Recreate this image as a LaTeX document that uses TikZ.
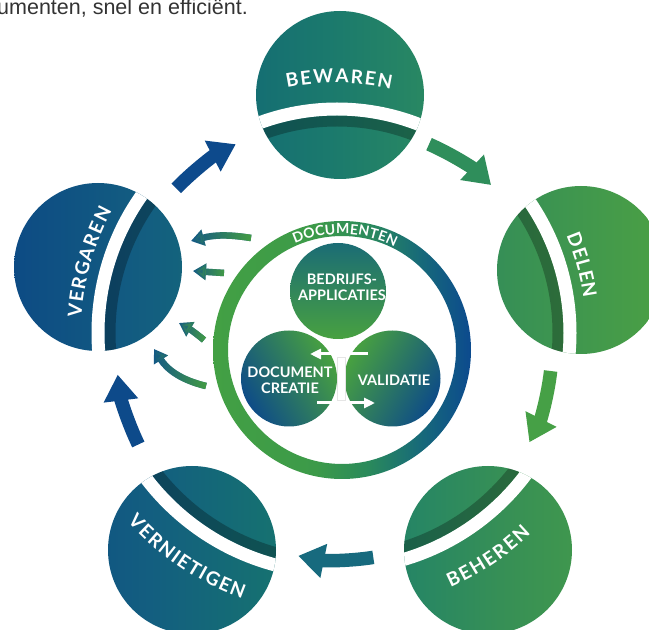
\documentclass[tikz,border=0pt]{standalone}
\usepackage{fontspec}
\usetikzlibrary{arrows.meta,decorations.text,fadings}
\newfontfamily\lab{Lato}
\newfontfamily\topfont{Liberation Sans}
\newcommand\biglab{\lab\bfseries\fontsize{19}{21}\selectfont}
\newcommand\smlab{\lab\bfseries\fontsize{14}{16}\selectfont}
\definecolor{b0}{HTML}{0D4B84}
\definecolor{b1}{HTML}{135E80}
\definecolor{b2}{HTML}{156F72}
\definecolor{b3}{HTML}{1C7B6C}
\definecolor{b4}{HTML}{288763}
\definecolor{b5}{HTML}{368F56}
\definecolor{b6}{HTML}{4BA044}
\definecolor{r0}{HTML}{43A044}
\definecolor{r1}{HTML}{3C9A49}
\definecolor{r2}{HTML}{2A8A5B}
\definecolor{r3}{HTML}{176A79}
\definecolor{r4}{HTML}{0C4A8E}
\definecolor{arA}{HTML}{0D4A8C}
\definecolor{arB}{HTML}{2F8E5B}
\definecolor{arC}{HTML}{46A046}
\definecolor{arD}{HTML}{176A7E}
\definecolor{arE}{HTML}{0D4A8A}
\definecolor{ig}{HTML}{46A040}
\definecolor{ib}{HTML}{11558A}
\definecolor{cg}{HTML}{48A140}
\definecolor{ct}{HTML}{1B6C75}
\definecolor{cb}{HTML}{0E4C87}
\definecolor{txt}{HTML}{333333}
\pgfdeclarehorizontalshading{bigshade}{100bp}{color(0bp)=(b0); color(25bp)=(b0); color(35.4bp)=(b1); color(43.9bp)=(b2); color(50bp)=(b3); color(56.2bp)=(b4); color(62.3bp)=(b5); color(75bp)=(b6); color(100bp)=(b6)}
\pgfdeclarehorizontalshading{ringshade}{100bp}{color(0bp)=(r0); color(25bp)=(r0); color(45bp)=(r1); color(55bp)=(r2); color(65bp)=(r3); color(75bp)=(r4); color(100bp)=(r4)}
\tikzfading[name=greenright, left color=transparent!100, right color=transparent!0]
\newcommand\gapband[2]{%
  \begin{scope}
    \clip (#1) circle[radius=84];
    \fill[black, opacity=.27, even odd rule] (G) circle[radius={#2-6.5}] (G) circle[radius={#2-17.5}];
    \draw[white, line width=13] (G) circle[radius=#2];
  \end{scope}}
\begin{document}
\begin{tikzpicture}[x=1pt,y=1pt,
  oarrow/.style={line width=13.5, -{Triangle[width=33pt,length=26pt]}},
  iarrow/.style={line width=6.5, -{Triangle[width=16pt,length=13pt]}},
  warrow/.style={white, line width=3, -{Triangle[width=10pt,length=11pt]}},
  intext/.style={text=white, font=\lab\bfseries\fontsize{14.5}{16}\selectfont, align=center, inner sep=0},
  lbl/.style={font=\biglab, decorate, decoration={text along path, text align={fit to path}, text color=white, text={|\biglab|#1}}},
  ringlbl/.style={font=\smlab, decorate, decoration={text along path, text align={fit to path}, text color=white, text={|\smlab|#1}}}]
\useasboundingbox (0,0) rectangle (649,630);
\coordinate (O) at (340,283);
\coordinate (G) at (337,297);
\coordinate (cBew) at (340,535);
\coordinate (cDel) at (581,360);
\coordinate (cVer) at (98,363);
\coordinate (cBeh) at (488,80);
\coordinate (cVern) at (192,80);
\coordinate (R) at (342,280);
\coordinate (cA) at (338,339);
\coordinate (cD) at (289,251.5);
\coordinate (cV) at (392.5,251.5);

% title
\node[anchor=base east, inner sep=0, text=txt, font=\topfont\fontsize{21.5}{24}\selectfont] (title) at (248,615) {umenten, snel en efficiënt.};

% big circles
\shade[shading=bigshade] (cBew) circle[radius=84] (cDel) circle[radius=84] (cVer) circle[radius=84] (cBeh) circle[radius=84] (cVern) circle[radius=84];
\gapband{cBew}{224}
\gapband{cDel}{233}
\gapband{cVer}{239}
\gapband{cBeh}{236}
\gapband{cVern}{240}

% outer cycle arrows
\draw[oarrow, arA] (O) ++(135.9:228) arc[start angle=135.9, end angle=117.2, radius=228];
\draw[oarrow, arB] (O) ++(66.3:221.5) arc[start angle=66.3, end angle=47, radius=221.5];
\draw[oarrow, arC] (O) ++(-6.5:212) arc[start angle=-6.5, end angle=-26.7, radius=212];
\draw[oarrow, arD] (O) ++(-81:213) arc[start angle=-81, end angle=-101.3, radius=213];
\draw[oarrow, arE] (O) ++(205.8:224) arc[start angle=205.8, end angle=187.1, radius=224];

% inner arrows towards VERGAREN
\coordinate (i1t) at (251,392); \coordinate (i1h) at (191,389);
\coordinate (i2t) at (224,357); \coordinate (i2h) at (193,359);
\coordinate (i3t) at (204,290); \coordinate (i3h) at (179,307);
\coordinate (i4t) at (206,244); \coordinate (i4h) at (154,281);
\draw[iarrow, ib] (i1t) to[bend right=12] (i1h);
\draw[iarrow, ig, path fading=greenright] (i1t) to[bend right=12] (i1h);
\draw[iarrow, ib] (i2t) -- (i2h);
\draw[iarrow, ig, path fading=greenright] (i2t) -- (i2h);
\draw[iarrow, ib] (i3t) to[bend right=5] (i3h);
\draw[iarrow, ig, path fading=greenright] (i3t) to[bend right=5] (i3h);
\draw[iarrow, ib] (i4t) to[bend left=22] (i4h);
\draw[iarrow, ig, path fading=greenright] (i4t) to[bend left=22] (i4h);

% central ring
\shade[shading=ringshade, even odd rule] (R) circle[radius=129] (R) circle[radius=114];
\path[ringlbl=DOCUMENTEN] (R) ++(114:116) arc[start angle=114, end angle=63, radius=116];

% inner circles
\shade[top color=ct, bottom color=cg] (cA) circle[radius=48];
\shade[top color=cg, bottom color=cb, shading angle=-60] (cD) circle[radius=48];
\shade[top color=cg, bottom color=cb, shading angle=60] (cV) circle[radius=48];
\filldraw[fill=white, draw=black!10, line width=.5] (337,230) rectangle (345,273);
\coordinate (w1a) at (368,276); \coordinate (w1b) at (310,276);
\coordinate (w2a) at (317,227); \coordinate (w2b) at (375,227);
\draw[warrow] (w1a) -- (w1b);
\draw[warrow] (w2a) -- (w2b);
\node[intext] (tA) at (342,343) {BEDRIJFS-\\APPLICATIES};
\node[intext] (tD) at (290,250) {DOCUMENT\\CREATIE};
\node[intext] (tV) at (394,250) {VALIDATIE};

% outer labels
\path[lbl=BEWAREN] (G) ++(101.5:250) arc[start angle=101.5, end angle=77.5, radius=250];
\path[lbl=DELEN] (G) ++(23:249) arc[start angle=23, end angle=8, radius=249];
\path[lbl=VERGAREN] (G) ++(176.5:256) arc[start angle=176.5, end angle=151.5, radius=256];
\path[lbl=BEHEREN] (G) ++(-66:279) arc[start angle=-66, end angle=-46, radius=279];
\path[lbl=VERNIETIGEN] (G) ++(-138:282) arc[start angle=-138, end angle=-109.6, radius=282];
\end{tikzpicture}
\end{document}
